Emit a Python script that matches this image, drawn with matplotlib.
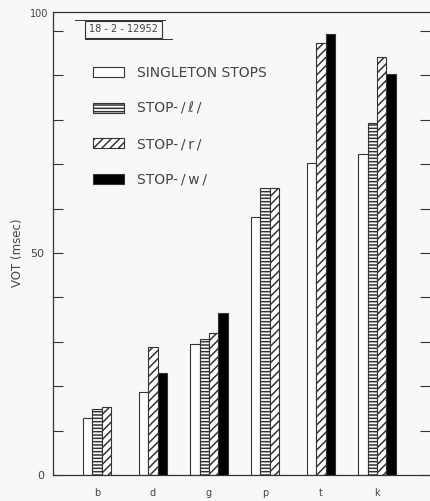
import matplotlib
matplotlib.use('Agg')
import matplotlib.pyplot as plt
import numpy as np
from matplotlib.patches import Patch

# VOT of singleton stops and stop clusters
categories = ['b', 'd', 'g', 'p', 't', 'k']
singleton = [12.8, 18.8, 29.5, 58.2, 70.2, 72.3]
stop_l = [14.8, None, 30.6, 64.6, None, 79.3]
stop_r = [15.4, 28.9, 32.1, 64.6, 97.4, 94.1]
stop_w = [None, 23.0, 36.6, None, 99.3, 90.3]
series_labels = ['SINGLETON STOPS', 'STOP-\u2009/\u2009\u2113\u2009/',
                 'STOP-\u2009/\u2009r\u2009/', 'STOP-\u2009/\u2009w\u2009/']

matplotlib.rcParams['font.family'] = 'DejaVu Sans'
matplotlib.rcParams['hatch.linewidth'] = 1.1
ink = '#333333'
txt = '#444444'

styles = [
    dict(facecolor='white', hatch=None),
    dict(facecolor='white', hatch='-----'),
    dict(facecolor='white', hatch='////'),
    dict(facecolor='black', hatch=None),
]

fig = plt.figure(figsize=(4.3, 5.01), dpi=100)
fig.patch.set_facecolor('#f8f8f6')
ax = fig.add_axes([53 / 430, 26 / 501, 377 / 430, 463 / 501])
ax.set_facecolor('#f8f8f6')

width = 0.166
series = [singleton, stop_l, stop_r, stop_w]
for i, cat in enumerate(categories):
    present = [k for k in range(4) if series[k][i] is not None]
    n = len(present)
    for j, k in enumerate(present):
        x = i + (j - (n - 1) / 2) * width
        ax.bar(x, series[k][i], width=width, edgecolor=ink, linewidth=0.8, **styles[k])

ax.set_xlim(-0.786, 5.946)
ax.set_ylim(0, 104.3)
ax.set_xticks(range(len(categories)))
ax.set_xticklabels(categories, fontsize=7, color=txt)
ax.tick_params(axis='x', length=0, pad=9)

yt = np.arange(0, 101, 10)
ax.set_yticks(yt)
ax.set_yticklabels(['0', '', '', '', '', '50', '', '', '', '', ''], fontsize=8, color=txt)
ax.tick_params(axis='y', direction='in', length=7, width=0.8, color=ink, left=True, right=True, pad=6)
ax.text(-0.012, 0.995, '100', transform=ax.transAxes, ha='right', va='center', fontsize=7, color=txt)

for s in ['left', 'bottom', 'top']:
    ax.spines[s].set_color(ink)
    ax.spines[s].set_linewidth(0.9)
ax.spines['right'].set_visible(False)

ax.set_ylabel('VOT (msec)', fontsize=8.5, color=txt)
ax.yaxis.set_label_coords(-0.078, 0.48)

# figure number box
box_x = (123.5 - 53) / 377
box_y = (475 - 29.5) / 463
ax.text(box_x, box_y, '18 - 2 - 12952', transform=ax.transAxes, ha='center', va='center',
        fontsize=7, color=txt,
        bbox=dict(boxstyle='square,pad=0.4', facecolor='none', edgecolor=ink, linewidth=0.8))
ax.plot([(75 - 53) / 377, (165 - 53) / 377], [(475 - 20) / 463] * 2, transform=ax.transAxes,
        color=ink, linewidth=0.7)
ax.plot([(85 - 53) / 377, (172 - 53) / 377], [(475 - 39) / 463] * 2, transform=ax.transAxes,
        color=ink, linewidth=0.7)

handles = [Patch(edgecolor=ink, linewidth=0.8, **st) for st in styles]
ax.legend(handles, series_labels, loc='upper left', bbox_to_anchor=((93 - 53) / 377, (475 - 66) / 463),
          frameon=False, fontsize=10, handlelength=2.2, handleheight=0.75, labelspacing=1.55,
          handletextpad=1.0, borderpad=0, borderaxespad=0, labelcolor=txt)

fig.savefig('out.png', dpi=100, facecolor=fig.get_facecolor())
